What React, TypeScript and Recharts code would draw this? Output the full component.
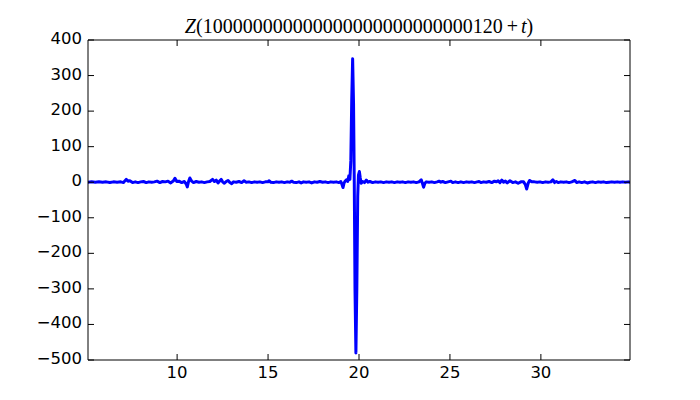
import { LineChart, Line, XAxis, YAxis } from 'recharts';

// Z(10^29 + 120 + t)
const tValues = [
  5.1, 5.3, 5.5, 5.7, 5.9, 6.1, 6.3, 6.5, 6.7, 6.9, 7.05, 7.2, 7.3, 7.4, 7.55, 7.7, 7.85,
  8.0, 8.15, 8.3, 8.45, 8.6, 8.75, 8.9, 9.05, 9.2, 9.35, 9.5, 9.65, 9.8, 9.88, 9.98,
  10.1, 10.25, 10.4, 10.5, 10.56, 10.63, 10.7, 10.8, 10.9, 11.05, 11.2, 11.35, 11.5, 11.65,
  11.8, 11.95, 12.05, 12.15, 12.25, 12.35, 12.42, 12.5, 12.6, 12.7, 12.8, 12.9, 13.0, 13.1,
  13.25, 13.4, 13.55, 13.68, 13.8, 13.95, 14.1, 14.25, 14.4, 14.55, 14.7, 14.85, 15.0, 15.05,
  15.15, 15.3, 15.45, 15.6, 15.75, 15.9, 16.05, 16.2, 16.3, 16.4, 16.55, 16.7, 16.82, 16.95,
  17.1, 17.25, 17.4, 17.55, 17.7, 17.85, 18.0, 18.15, 18.3, 18.45, 18.6, 18.75, 18.9, 19.0,
  19.07, 19.12, 19.18, 19.25, 19.32, 19.38, 19.44, 19.5, 19.55, 19.6, 19.65, 19.7, 19.74,
  19.78, 19.83, 19.88, 19.93, 19.97, 20.02, 20.07, 20.12, 20.2, 20.3, 20.4, 20.5, 20.6,
  20.75, 20.9, 21.05, 21.2, 21.35, 21.5, 21.65, 21.8, 21.95, 22.1, 22.25, 22.4, 22.55, 22.7,
  22.85, 23.0, 23.15, 23.3, 23.42, 23.5, 23.55, 23.62, 23.7, 23.85, 24.0, 24.15, 24.3, 24.4,
  24.5, 24.6, 24.75, 24.9, 25.05, 25.15, 25.3, 25.45, 25.6, 25.75, 25.9, 26.05, 26.2, 26.35,
  26.5, 26.6, 26.7, 26.85, 27.0, 27.15, 27.3, 27.45, 27.55, 27.65, 27.75, 27.85, 27.95, 28.05,
  28.15, 28.3, 28.45, 28.6, 28.75, 28.9, 29.05, 29.15, 29.22, 29.3, 29.38, 29.5, 29.65, 29.8,
  29.95, 30.1, 30.25, 30.4, 30.55, 30.66, 30.75, 30.85, 30.95, 31.1, 31.25, 31.4, 31.55, 31.7,
  31.87, 31.97, 32.1, 32.25, 32.4, 32.55, 32.7, 32.85, 33.0, 33.15, 33.3, 33.45, 33.6, 33.75,
  33.9, 34.05, 34.2, 34.35, 34.5, 34.65, 34.8, 34.9,
];

const zValues = [
  0, 1, 0, 1, 0, 1, -1, 1, 0, 1, -1, 8, 3, 4, -1, 1, -1,
  1, 2, -1, 1, 0, 1, 3, -1, 2, 1, 3, -2, 4, 11, 2,
  3, -1, 2, -5, -13, 2, 12, 3, -1, 2, 0, 1, -1, 1,
  2, 8, 2, 6, -2, 4, 8, 1, -3, 2, 5, -1, -4, 1,
  0, 2, -1, 4, 0, 1, -1, 1, 0, 1, -1, 1, 1, 4,
  0, -1, 1, 0, 1, -1, 1, 0, 3, 0, -1, 1, -2, 1,
  0, 1, -2, 1, 0, 2, 0, 1, -1, 1, 0, 1, -1, 2,
  -7, -15, -2, 4, 7, 2, 18, 8, 60, 230, 347, 220, 0,
  -300, -480, -300, -40, 20, 30, 12, -3, 2, -1, 6, 0, 2,
  -1, 1, 0, 1, -1, 1, 0, 1, -1, 1, 0, 1, -1, 1,
  0, 1, -1, 1, 7, -5, -14, -3, 1, 0, 1, -1, 1, 3,
  0, 2, -1, 1, 3, -1, 1, -1, 1, -1, 1, 0, 1, -1,
  1, 2, -1, 1, 0, 2, -1, 3, 1, 4, -1, 6, 0, 3,
  -2, 4, -1, 1, -3, 1, 1, -7, -19, -3, 5, 1, 1, 0,
  1, -1, 1, 0, 1, 7, -1, 2, -1, 1, 0, 1, -1, 1,
  5, -1, 1, -1, 1, -2, 0, 1, -1, 1, 0, 1, -1, 0,
  1, 0, 1, 0, 1, 0, 1, 0,
];

const xTicks = [10, 15, 20, 25, 30];
const yTicks = [-500, -400, -300, -200, -100, 0, 100, 200, 300, 400];

const data = tValues.map((t, i) => ({ t, z: zValues[i] }));

const fmt = (v: number) => String(v).replace('-', '\u2212');
const FONT = 'DejaVu Sans';
const FS = 16.5;
const TICK = 6;

// matplotlib classic: ticks point into the axes box
function BottomTick({ x, y, payload }: any) {
  return (
    <g>
      <line x1={x} y1={y} x2={x} y2={y - TICK} stroke="#000" />
      <text x={x} y={y + 18} textAnchor="middle" fontFamily={FONT} fontSize={FS} fill="#000">
        {fmt(payload.value)}
      </text>
    </g>
  );
}

function TopTick({ x, y }: any) {
  return <line x1={x} y1={y} x2={x} y2={y + TICK} stroke="#000" />;
}

function LeftTick({ x, y, payload }: any) {
  return (
    <g>
      <line x1={x} y1={y} x2={x + TICK} y2={y} stroke="#000" />
      <text x={x - 6} y={y + 4} textAnchor="end" fontFamily={FONT} fontSize={FS} fill="#000">
        {fmt(payload.value)}
      </text>
    </g>
  );
}

function RightTick({ x, y }: any) {
  return <line x1={x} y1={y} x2={x - TICK} y2={y} stroke="#000" />;
}

export default function App() {
  return (
    <div style={{ position: 'absolute', left: 0, top: 0, width: 700, height: 400, background: '#fff' }}>
      <LineChart width={700} height={400} data={data} margin={{ top: 39, right: 69, bottom: 10, left: 38 }}>
        <text x={359} y={33} textAnchor="middle" fontFamily="Liberation Serif" fontSize={20} fill="#000">
          <tspan fontStyle="italic">Z</tspan>
          <tspan>(100000000000000000000000000120</tspan>
          <tspan dx={4}>+</tspan>
          <tspan dx={3} fontStyle="italic">t</tspan>
          <tspan>)</tspan>
        </text>
        <XAxis
          dataKey="t"
          type="number"
          domain={[5.1, 34.9]}
          ticks={xTicks}
          allowDataOverflow
          height={30}
          tickSize={0}
          tickMargin={0}
          tickLine={false}
          tick={<BottomTick />}
          axisLine={{ stroke: '#000' }}
        />
        <XAxis
          xAxisId="top"
          orientation="top"
          dataKey="t"
          type="number"
          domain={[5.1, 34.9]}
          ticks={xTicks}
          allowDataOverflow
          height={1}
          tickSize={0}
          tickMargin={0}
          tickLine={false}
          tick={<TopTick />}
          axisLine={{ stroke: '#000' }}
        />
        <YAxis
          type="number"
          domain={[-500, 400]}
          ticks={yTicks}
          allowDataOverflow
          width={50}
          tickSize={0}
          tickMargin={0}
          tickLine={false}
          tick={<LeftTick />}
          axisLine={{ stroke: '#000' }}
        />
        <YAxis
          yAxisId="right"
          orientation="right"
          type="number"
          domain={[-500, 400]}
          ticks={yTicks}
          allowDataOverflow
          width={1}
          tickSize={0}
          tickMargin={0}
          tickLine={false}
          tick={<RightTick />}
          axisLine={{ stroke: '#000' }}
        />
        <Line
          dataKey="z"
          type="linear"
          stroke="#0000ff"
          strokeWidth={3}
          strokeLinejoin="round"
          strokeLinecap="round"
          dot={false}
          isAnimationActive={false}
        />
      </LineChart>
    </div>
  );
}
